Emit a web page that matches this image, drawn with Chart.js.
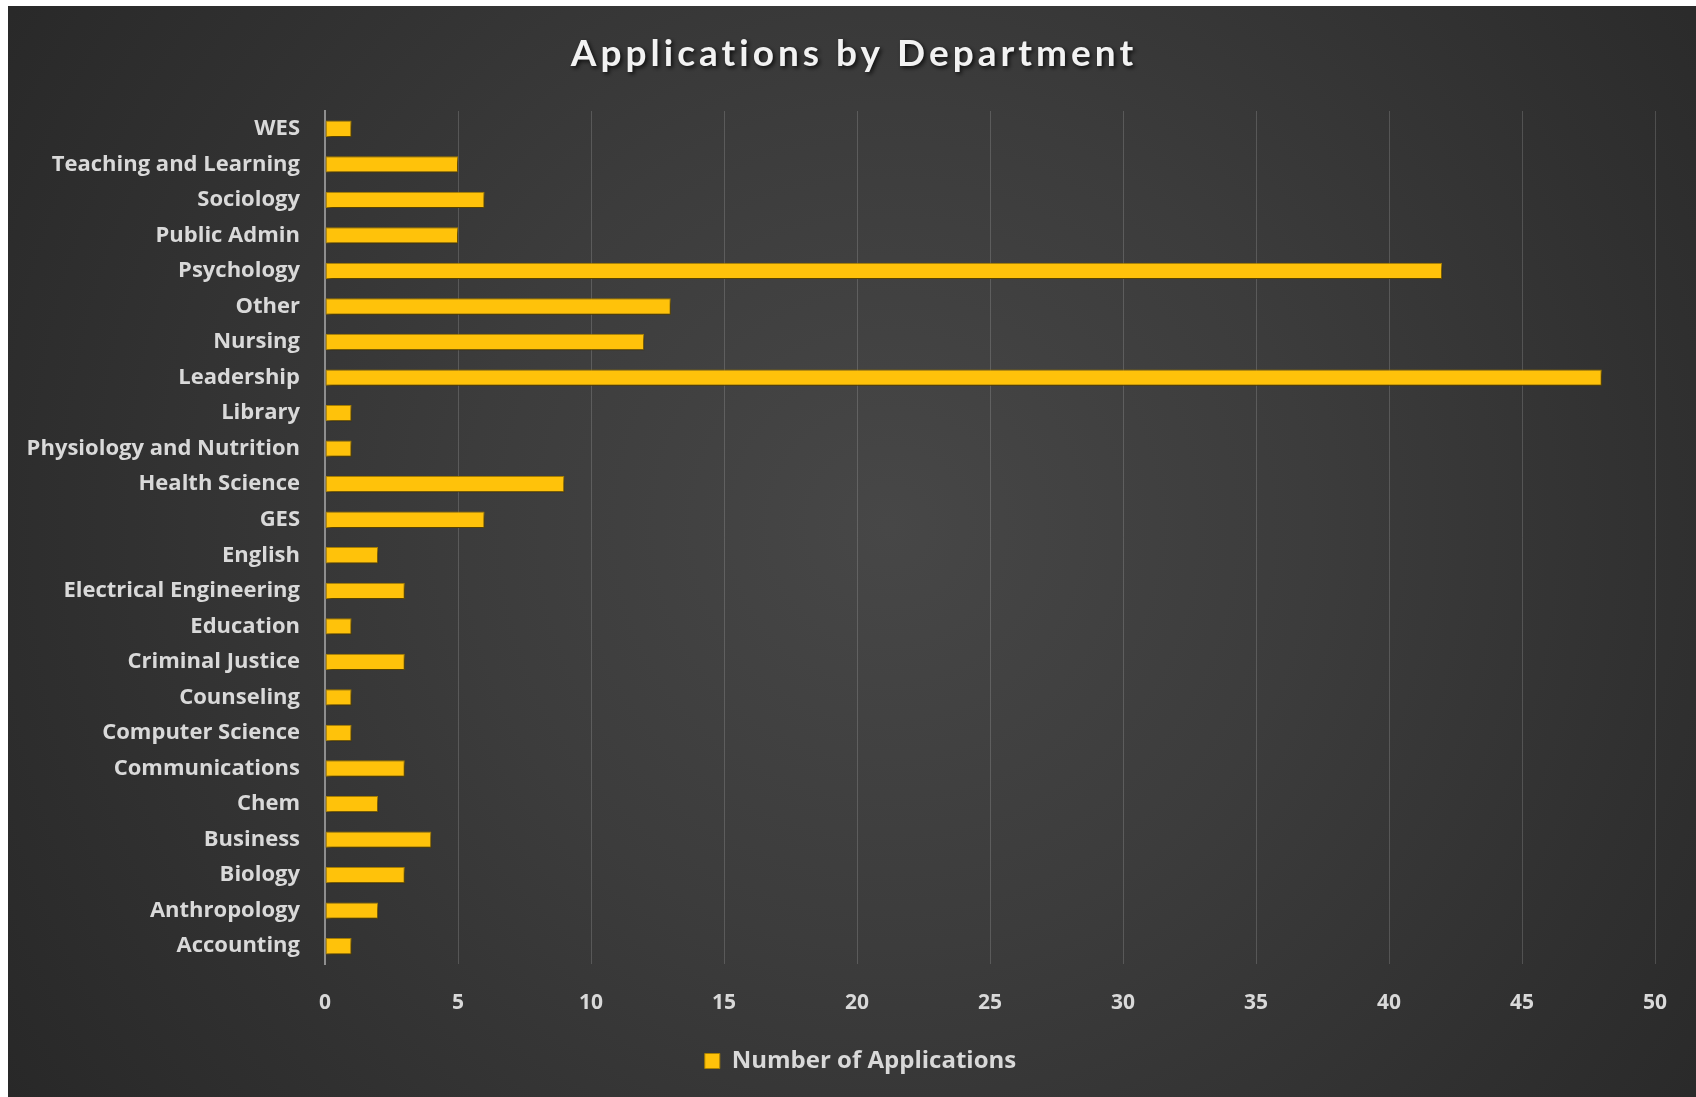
<!DOCTYPE html>
<html>
<head>
<meta charset="utf-8">
<script src="https://cdn.jsdelivr.net/npm/chart.js@4"></script>
<style>
  html, body { margin: 0; padding: 0; background: #ffffff; width: 1696px; height: 1097px; overflow: hidden; }
  #wrap { position: absolute; left: 8px; top: 6px; width: 1688px; height: 1091px; }
</style>
</head>
<body>
<div id="wrap"><canvas id="c" width="1688" height="1091"></canvas></div>
<script>
const chartTitle = 'Applications by Department';
const seriesName = 'Number of Applications';
const departments = [
  'WES', 'Teaching and Learning', 'Sociology', 'Public Admin', 'Psychology',
  'Other', 'Nursing', 'Leadership', 'Library', 'Physiology and Nutrition',
  'Health Science', 'GES', 'English', 'Electrical Engineering', 'Education',
  'Criminal Justice', 'Counseling', 'Computer Science', 'Communications',
  'Chem', 'Business', 'Biology', 'Anthropology', 'Accounting'
];
const applications = [
  1, 5, 6, 5, 42,
  13, 12, 48, 1, 1,
  9, 6, 2, 3, 1,
  3, 1, 1, 3,
  2, 4, 3, 2, 1
];
const xMin = 0, xMax = 50, xStep = 5;

const textColor = '#d9d9d9';

const backgroundPlugin = {
  id: 'bg',
  beforeDraw(chart) {
    const ctx = chart.ctx;
    const w = chart.width, h = chart.height;
    ctx.save();
    const g = ctx.createRadialGradient(880, 520, 0, 880, 520, 1050);
    g.addColorStop(0, '#474747');
    g.addColorStop(0.4, '#3c3c3c');
    g.addColorStop(0.75, '#303030');
    g.addColorStop(1, '#282828');
    ctx.fillStyle = g;
    ctx.fillRect(0, 0, w, h);
    // title
    ctx.font = 'bold 37px Lato';
    try { ctx.letterSpacing = '4px'; } catch (e) {}
    ctx.textAlign = 'center';
    ctx.textBaseline = 'middle';
    ctx.shadowColor = 'rgba(0,0,0,0.75)';
    ctx.shadowOffsetX = 2;
    ctx.shadowOffsetY = 2;
    ctx.shadowBlur = 4;
    ctx.fillStyle = '#f2f2f2';
    ctx.fillText(chartTitle, w / 2 + 2, 48);
    ctx.restore();
  }
};

const legendShiftPlugin = {
  id: 'legendShift',
  afterLayout(chart) {
    if (chart.legend) {
      chart.legend.left += 29;
      chart.legend.right += 29;
    }
  }
};

const shadowPlugin = {
  id: 'barShadow',
  beforeDatasetsDraw(chart) {
    const ctx = chart.ctx;
    ctx.save();
    ctx.shadowColor = 'rgba(0,0,0,0.55)';
    ctx.shadowOffsetX = 2;
    ctx.shadowOffsetY = 3;
    ctx.shadowBlur = 4;
  },
  afterDatasetsDraw(chart) {
    chart.ctx.restore();
  }
};

new Chart(document.getElementById('c'), {
  type: 'bar',
  data: {
    labels: departments,
    datasets: [{
      label: seriesName,
      data: applications,
      backgroundColor: '#FFC20A',
      borderColor: '#A98000',
      borderWidth: 1,
      borderSkipped: false,
      barPercentage: 0.46,
      categoryPercentage: 1.0
    }]
  },
  options: {
    indexAxis: 'y',
    responsive: false,
    animation: false,
    layout: { padding: { top: 105, left: 0, right: 41, bottom: 14 } },
    plugins: {
      title: { display: false },
      tooltip: { enabled: false },
      legend: {
        display: true,
        position: 'bottom',
        labels: {
          color: textColor,
          font: { family: 'Open Sans', weight: 'bold', size: 24 },
          boxWidth: 15,
          boxHeight: 15,
          padding: 10
        }
      }
    },
    scales: {
      x: {
        min: xMin,
        max: xMax,
        ticks: {
          stepSize: xStep,
          color: textColor,
          font: { family: 'Open Sans', weight: 'bold', size: 21 },
          padding: 26
        },
        grid: { color: 'rgba(255,255,255,0.16)', lineWidth: 1, drawTicks: false },
        border: { display: false },
        afterFit(scale) { scale.height = 75; }
      },
      y: {
        ticks: {
          color: textColor,
          font: { family: 'Open Sans', weight: 'bold', size: 22 },
          padding: 25,
          autoSkip: false
        },
        grid: { display: false, drawTicks: false },
        border: { display: true, color: '#8e8e8e', width: 2 },
        afterFit(scale) { scale.width = 317; }
      }
    }
  },
  plugins: [backgroundPlugin, legendShiftPlugin, shadowPlugin]
});
</script>
</body>
</html>
